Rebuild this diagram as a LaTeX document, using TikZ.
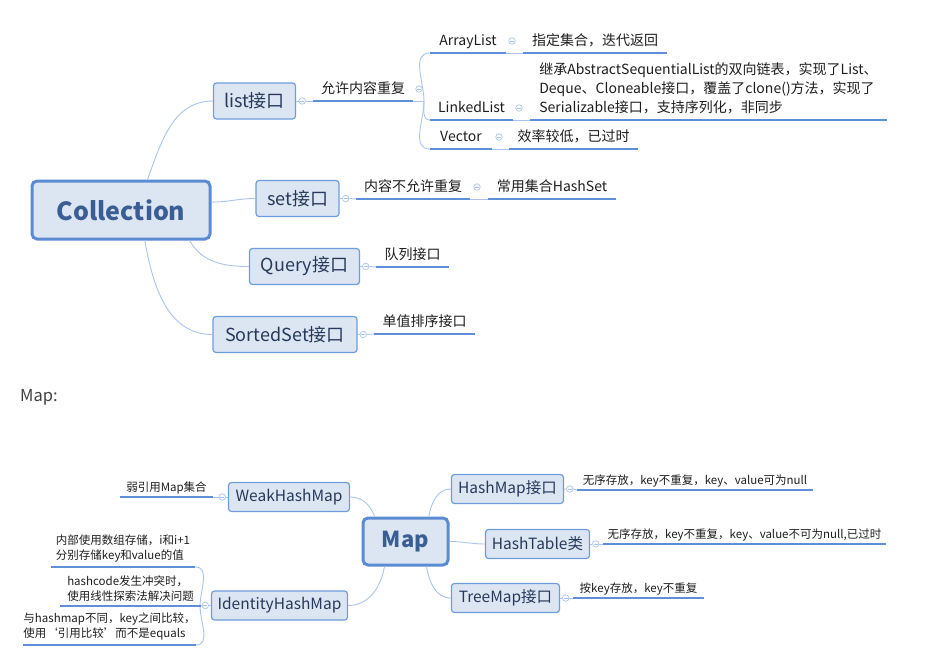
\documentclass[tikz,border=0pt]{standalone}
\usepackage{fontspec}
\setmainfont{Noto Sans CJK SC}
\usetikzlibrary{positioning}
\definecolor{topicfill}{HTML}{DCE6F3}
\definecolor{topicline}{HTML}{6F9DDB}
\definecolor{rootline}{HTML}{5B8BD3}
\definecolor{roottext}{HTML}{3A5E94}
\definecolor{topictext}{HTML}{27395A}
\definecolor{branch}{HTML}{A9C5EC}
\definecolor{uline}{HTML}{5E8FD8}
\definecolor{labeltext}{HTML}{1E1E1E}
\tikzset{
  mm/root/.style={draw=rootline, line width=3pt, fill=topicfill, rounded corners=5pt, text=roottext, inner sep=0pt, align=center},
  mm/topic/.style={draw=topicline, line width=1.2pt, fill=topicfill, rounded corners=3pt, text=topictext, inner sep=0pt, align=center},
  mm/label/.style={anchor=south, inner xsep=0pt, inner ysep=5.6pt, text height=12.6pt, text depth=2.1pt, text=labeltext, font=\fontsize{14}{19}\selectfont},
  mm/small/.style={mm/label, inner ysep=4pt, text height=10.4pt, text depth=1.7pt, font=\fontsize{11.5}{15}\selectfont},
  mm/note/.style={anchor=south, inner xsep=0pt, inner ysep=5.5pt, align=left, text=labeltext, font=\fontsize{14}{19}\selectfont},
  mm/smallnote/.style={mm/note, inner ysep=4.5pt, font=\fontsize{11.5}{15}\selectfont},
  mm/fold/.style={circle, draw=branch, fill=white, line width=0.7pt, minimum size=6.5pt, inner sep=0pt,
    path picture={\draw[branch, line width=0.6pt] ([xshift=1.4pt]path picture bounding box.west) -- ([xshift=-1.4pt]path picture bounding box.east);}}
}

\begin{document}
\begin{tikzpicture}[
  x=1pt, y=1pt,
  conn/.style={draw=branch, line width=0.9pt},
  under/.style={draw=uline, line width=1.8pt},
  ctopic/.style={mm/topic, minimum height=36pt, font=\fontsize{18}{22}\selectfont},
  mtopic/.style={mm/topic, minimum height=29pt, font=\fontsize{15.5}{19}\selectfont}
]
\useasboundingbox (0,0) rectangle (935,-657);

% Collection
\node[mm/root, minimum width=178pt, minimum height=58pt, font=\bfseries\fontsize{25}{30}\selectfont] (coll) at (121,-210) {Collection};
\node[ctopic, minimum width=82pt] (list) at (254.5,-101) {list接口};
\node[ctopic, minimum width=83pt] (set) at (297.5,-198.5) {set接口};
\node[ctopic, minimum width=110pt] (query) at (304.5,-266.5) {Query接口};
\node[ctopic, minimum width=144pt] (sorted) at (285,-334.5) {SortedSet接口};

\node[mm/fold, right=2.5pt of list] (f-list) {};
\node[mm/fold, right=2.5pt of set] (f-set) {};
\node[mm/fold, right=2pt of query] (f-query) {};
\node[mm/fold, right=2pt of sorted] (f-sorted) {};

\node[mm/label, minimum width=100pt] (allow) at (363,-101) {允许内容重复};
\node[mm/fold] (f-allow) at (419,-89) {};
\coordinate (fk-list) at (424,-101);
\node[mm/label, minimum width=76pt] (arr) at (468,-53) {ArrayList};
\node[mm/fold] (f-arr) at (512,-41) {};
\node[mm/label, minimum width=144pt] (arr-d) at (595,-53) {指定集合，迭代返回};
\node[mm/label, minimum width=83pt] (linked) at (471.5,-120) {LinkedList};
\node[mm/fold] (f-linked) at (519,-108) {};
\node[mm/note, minimum width=357pt] (linked-d) at (708.5,-120) {继承AbstractSequentialList的双向链表，实现了List、\\Deque、Cloneable接口，覆盖了clone()方法，实现了\\Serializable接口，支持序列化，非同步};
\node[mm/label, minimum width=62pt] (vec) at (461,-149) {Vector};
\node[mm/fold] (f-vec) at (499,-137) {};
\node[mm/label, minimum width=129pt] (vec-d) at (573.5,-149) {效率较低，已过时};

\node[mm/label, minimum width=114pt] (norep) at (413,-199) {内容不允许重复};
\node[mm/fold] (f-norep) at (477,-187) {};
\node[mm/label, minimum width=128pt] (hset) at (552,-199) {常用集合HashSet};
\node[mm/label, minimum width=73pt] (queue) at (412.5,-267) {队列接口};
\node[mm/label, minimum width=101pt] (single) at (424.5,-334) {单值排序接口};

\draw[conn] (coll.49) to[out=70,in=180] (list.west);
\draw[conn] (coll.5) to[out=0,in=180] (set.west);
\draw[conn] (coll.-24) to[out=-60,in=180] (query.west);
\draw[conn] (coll.-52) to[out=-80,in=180] (sorted.west);

\draw[conn] (list.east) -- (f-list.west) (f-list.east) -- (allow.south west);
\draw[conn] (allow.south east) -- (fk-list);
\draw[conn] (fk-list) to[out=90,in=180] (arr.south west);
\draw[conn] (fk-list) to[out=-90,in=180] (linked.south west);
\draw[conn] (fk-list) to[out=-90,in=180] (vec.south west);
\draw[conn] (arr.south east) -- (arr-d.south west);
\draw[conn] (linked.south east) -- (linked-d.south west);
\draw[conn] (vec.south east) -- (vec-d.south west);
\draw[conn] (set.east) -- (f-set.west) (f-set.east) -- (norep.south west);
\draw[conn] (norep.south east) -- (hset.south west);
\draw[conn] (query.east) -- (f-query.west) (f-query.east) -- (queue.south west);
\draw[conn] (sorted.east) -- (f-sorted.west) (f-sorted.east) -- (single.south west);

% Map
\node[anchor=west, inner sep=0pt, text=black!75, font=\fontsize{16.5}{20}\selectfont] (maptitle) at (20,-397.5) {Map:};

\node[mm/root, minimum width=85pt, minimum height=47pt, font=\bfseries\fontsize{22}{26}\selectfont] (map) at (405.5,-541.5) {Map};
\node[mtopic, minimum width=121pt] (weak) at (289,-497) {WeakHashMap};
\node[mtopic, minimum width=136pt] (ident) at (279.5,-605.5) {IdentityHashMap};
\node[mtopic, minimum width=112pt] (hashmap) at (507.5,-489) {HashMap接口};
\node[mtopic, minimum width=104pt] (hashtable) at (537.5,-544) {HashTable类};
\node[mtopic, minimum width=108pt] (treemap) at (505.5,-598) {TreeMap接口};

\node[mm/fold, left=2pt of weak] (f-weak) {};
\node[mm/fold, left=2pt of ident] (f-ident) {};
\node[mm/fold, right=2pt of hashmap] (f-hashmap) {};
\node[mm/fold, right=2pt of hashtable] (f-hashtable) {};
\node[mm/fold, right=2pt of treemap] (f-treemap) {};

\node[mm/small, minimum width=93pt] (weak-d) at (166.5,-497) {弱引用Map集合};
\coordinate (fk-ident) at (200,-606);
\node[mm/smallnote, minimum width=144pt] (id1) at (123,-567) {内部使用数组存储，i和i+1\\分别存储key和value的值};
\node[mm/smallnote, minimum width=141pt] (id2) at (130.5,-606) {hashcode发生冲突时，\\使用线性探索法解决问题};
\node[mm/smallnote, minimum width=171pt] (id3) at (109.5,-645) {与hashmap不同，key之间比较，\\使用‘引用比较’而不是equals};
\node[mm/small, minimum width=236pt] (hm-d) at (695,-490) {无序存放，key不重复，key、value可为null};
\node[mm/small, minimum width=283pt] (ht-d) at (744.5,-544) {无序存放，key不重复，key、value不可为null,已过时};
\node[mm/small, minimum width=131pt] (tm-d) at (638.5,-598) {按key存放，key不重复};

\draw[conn] (map.141) to[out=110,in=0] (weak.east);
\draw[conn] (map.-130) to[out=-100,in=0] (ident.east);
\draw[conn] (map.47) to[out=80,in=180] (hashmap.west);
\draw[conn] (map.east) to[out=0,in=180] (hashtable.west);
\draw[conn] (map.-50) to[out=-80,in=180] (treemap.west);

\draw[conn] (weak.west) -- (f-weak.east) (f-weak.west) -- (weak-d.south east);
\draw[conn] (ident.west) -- (f-ident.east) (f-ident.west) -- (id2.south east);
\draw[conn] (fk-ident) to[out=90,in=0] (id1.south east);
\draw[conn] (fk-ident) to[out=-90,in=0] (id3.south east);
\draw[conn] (hashmap.east) -- (f-hashmap.west) (f-hashmap.east) -- (hm-d.south west);
\draw[conn] (hashtable.east) -- (f-hashtable.west) (f-hashtable.east) -- (ht-d.south west);
\draw[conn] (treemap.east) -- (f-treemap.west) (f-treemap.east) -- (tm-d.south west);

\foreach \n in {allow,arr,arr-d,linked,linked-d,vec,vec-d,norep,hset,queue,single,weak-d,id1,id2,id3,hm-d,ht-d,tm-d}
  \draw[under] (\n.south west) -- (\n.south east);
\end{tikzpicture}
\end{document}
